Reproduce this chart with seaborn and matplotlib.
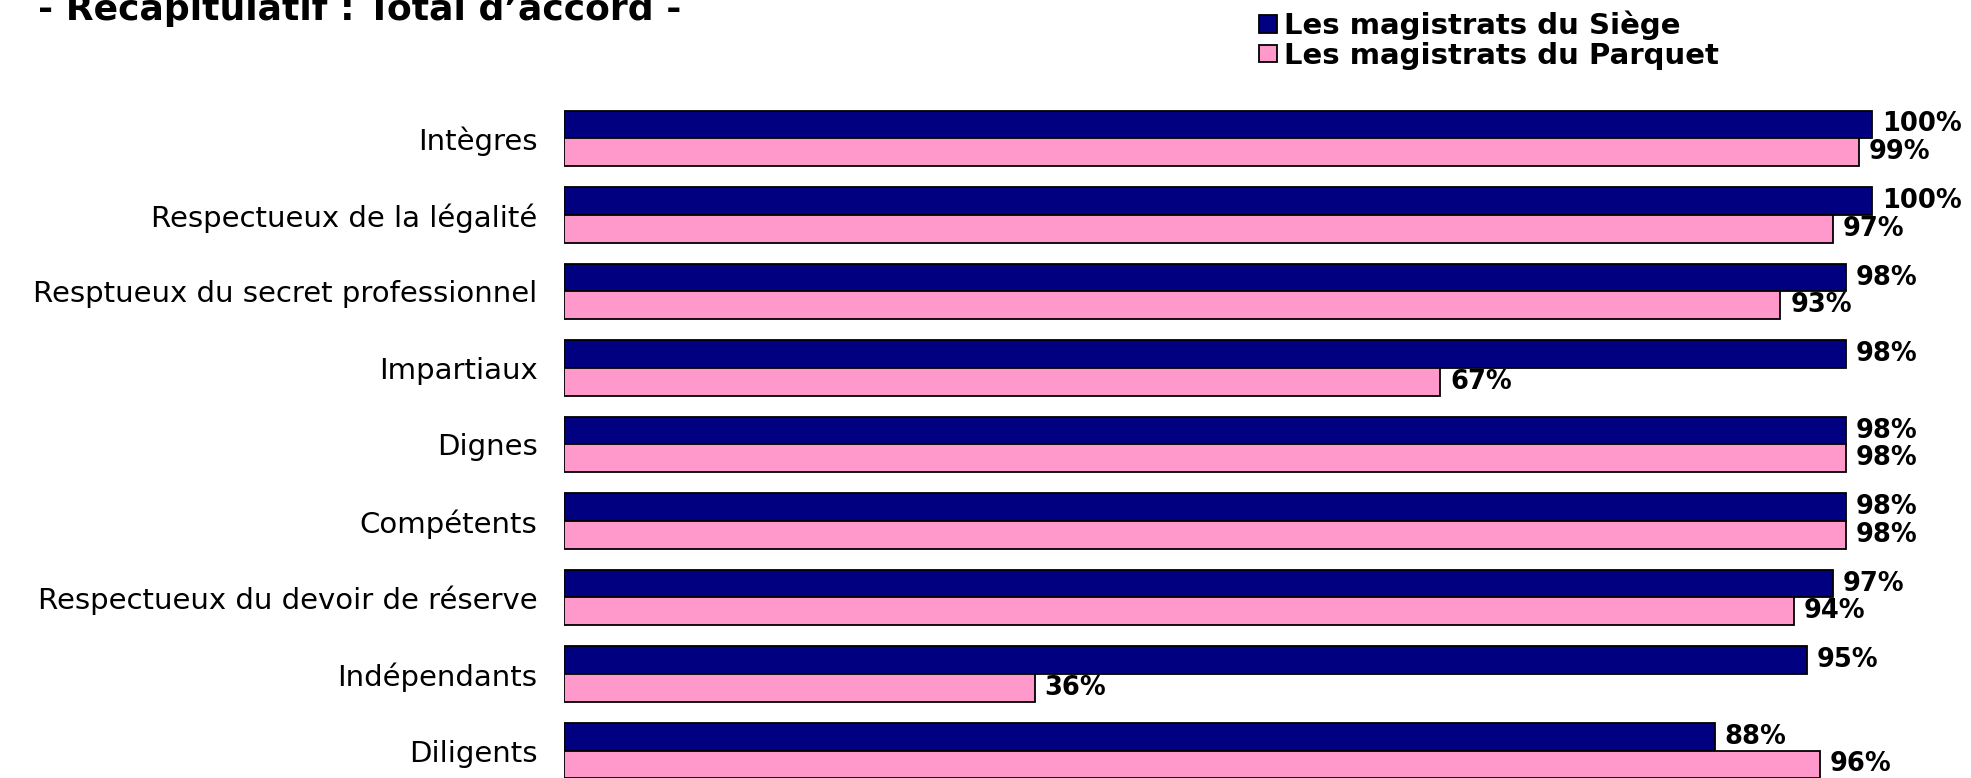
import matplotlib
matplotlib.use("Agg")
import matplotlib.pyplot as plt
import seaborn as sns
import pandas as pd

categories = [
    "Intègres",
    "Respectueux de la légalité",
    "Resptueux du secret professionnel",
    "Impartiaux",
    "Dignes",
    "Compétents",
    "Respectueux du devoir de réserve",
    "Indépendants",
    "Diligents",
]
series_names = ["Les magistrats du Siège", "Les magistrats du Parquet"]
siege = [100, 100, 98, 98, 98, 98, 97, 95, 88]
parquet = [99, 97, 93, 67, 98, 98, 94, 36, 96]
title = "- Récapitulatif : Total d’accord -"
colors = ["#000080", "#FF99CC"]

df = pd.DataFrame({
    "categorie": categories * 2,
    "groupe": [series_names[0]] * len(categories) + [series_names[1]] * len(categories),
    "valeur": siege + parquet,
})

sns.set_theme(style="white")
plt.rcParams["font.family"] = ["DejaVu Sans"]
plt.rcParams["text.color"] = "black"

W, H = 1971, 778
fig = plt.figure(figsize=(W / 100, H / 100), dpi=100, facecolor="white")
ax = fig.add_axes([564 / W, 0, (W - 564) / W, 1])

sns.barplot(data=df, y="categorie", x="valeur", hue="groupe", order=categories,
            hue_order=series_names, palette=colors, width=0.724, orient="h",
            edgecolor="black", linewidth=1.3, saturation=1, ax=ax)

px_per_unit = (1872 - 564) / 100
ax.set_xlim(0, (W - 564) / px_per_unit)
spacing = 76.53
c0 = 138.3
ax.set_ylim((H - c0) / spacing, -c0 / spacing)

for s in ax.spines.values():
    s.set_visible(False)
ax.set_xticks([])
ax.set_xlabel("")
ax.set_ylabel("")
ax.tick_params(axis="y", length=0, pad=19, labelsize=21, labelcolor="black")

vals = [siege, parquet]
for cont, v in zip(ax.containers, vals):
    ax.bar_label(cont, labels=[f"{x}%" for x in v], padding=7,
                 fontsize=18.5, fontweight="bold", color="black")

handles, labels = ax.get_legend_handles_labels()
if ax.get_legend() is not None:
    ax.get_legend().remove()
fig.legend(handles, labels, loc="upper left",
           bbox_to_anchor=(1259 / W, 1 - 11 / H), bbox_transform=fig.transFigure,
           frameon=False, prop={"size": 21, "weight": "bold"}, labelcolor="black",
           handlelength=0.62, handleheight=0.55, handletextpad=0.25,
           labelspacing=0.05, borderpad=0, borderaxespad=0)

fig.text(38 / W, 1 - 20 / H, title, ha="left", va="baseline",
         fontsize=26, fontweight="bold", color="black")

fig.savefig("out.png", dpi=100, facecolor="white")
